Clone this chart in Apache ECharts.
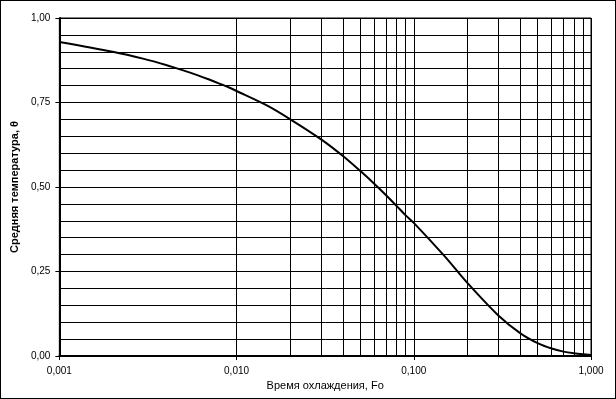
<!DOCTYPE html>
<html>
<head>
<meta charset="utf-8">
<script src="https://cdn.jsdelivr.net/npm/echarts@6/dist/echarts.min.js"></script>
<style>
  html, body { margin: 0; padding: 0; background: #fff; }
  #chart { width: 616px; height: 399px; box-sizing: border-box; border: 1px solid #000; }
</style>
</head>
<body>
<div id="chart"></div>
<script>
// Fourier number (cooling time) and mean temperature
var fourier = [0.001, 0.002, 0.003, 0.004, 0.005, 0.006, 0.007, 0.008, 0.009, 0.01,
               0.015, 0.02, 0.03, 0.04, 0.05, 0.06, 0.07, 0.08, 0.09, 0.1,
               0.15, 0.2, 0.3, 0.4, 0.5, 0.6, 0.7, 0.8, 0.9, 1.0];
var meanTemp = [0.929, 0.900, 0.879, 0.861, 0.845, 0.831, 0.818, 0.806, 0.795, 0.784,
                0.740, 0.701, 0.641, 0.591, 0.547, 0.509, 0.475, 0.444, 0.416, 0.394,
                0.294, 0.217, 0.120, 0.067, 0.038, 0.022, 0.013, 0.008, 0.005, 0.003];

var xName = 'Время охлаждения, Fo';
var yName = 'Средняя температура, θ';

// minor vertical grid lines 2..9 inside each decade
var decades = [0.001, 0.01, 0.1];
var minorLines = [];
decades.forEach(function (d) {
    for (var k = 2; k <= 9; k++) minorLines.push({ xAxis: +(d * k).toPrecision(3) });
});

var font = 'Liberation Sans, Arial, sans-serif';
var chart = echarts.init(document.getElementById('chart'), null, { renderer: 'canvas' });

chart.setOption({
    animation: false,
    grid: {
        left: 58, right: 24, top: 17, bottom: 42,
        show: true, borderColor: '#000', borderWidth: 1
    },
    xAxis: {
        type: 'log',
        logBase: 10,
        min: 0.001,
        max: 1,
        name: xName,
        nameLocation: 'middle',
        nameGap: 21,
        nameTextStyle: { color: '#000', fontFamily: font, fontSize: 11 },
        axisLine: { lineStyle: { color: '#000', width: 2 } },
        axisTick: { show: true, length: 4, lineStyle: { color: '#000' } },
        axisLabel: {
            color: '#000', fontFamily: font, fontSize: 10, margin: 10,
            formatter: function (v) { return v.toFixed(3).replace('.', ','); }
        },
        splitLine: { show: true, lineStyle: { color: '#000', width: 1 } },
        minorTick: { show: false },
        minorSplitLine: { show: false }
    },
    yAxis: {
        type: 'value',
        min: 0,
        max: 1,
        interval: 0.25,
        name: yName,
        nameLocation: 'middle',
        nameGap: 37,
        nameTextStyle: { color: '#000', fontFamily: font, fontSize: 11, fontWeight: 'bold' },
        axisLine: { show: true, lineStyle: { color: '#000', width: 2 } },
        axisTick: { show: true, length: 4, lineStyle: { color: '#000' } },
        axisLabel: {
            color: '#000', fontFamily: font, fontSize: 10, margin: 9,
            formatter: function (v) { return v.toFixed(2).replace('.', ','); }
        },
        splitLine: { show: true, lineStyle: { color: '#000', width: 1 } },
        minorTick: { show: false, splitNumber: 5 },
        minorSplitLine: { show: true, lineStyle: { color: '#000', width: 1 } }
    },
    series: [{
        type: 'line',
        data: fourier.map(function (f, i) { return [f, meanTemp[i]]; }),
        smooth: 0.3,
        showSymbol: false,
        lineStyle: { color: '#000', width: 2 },
        z: 5,
        markLine: {
            silent: true,
            symbol: 'none',
            label: { show: false },
            lineStyle: { color: '#000', width: 1, type: 'solid' },
            data: minorLines,
            z: 1
        }
    }]
});

window.addEventListener('resize', function () { chart.resize(); });
</script>
</body>
</html>
